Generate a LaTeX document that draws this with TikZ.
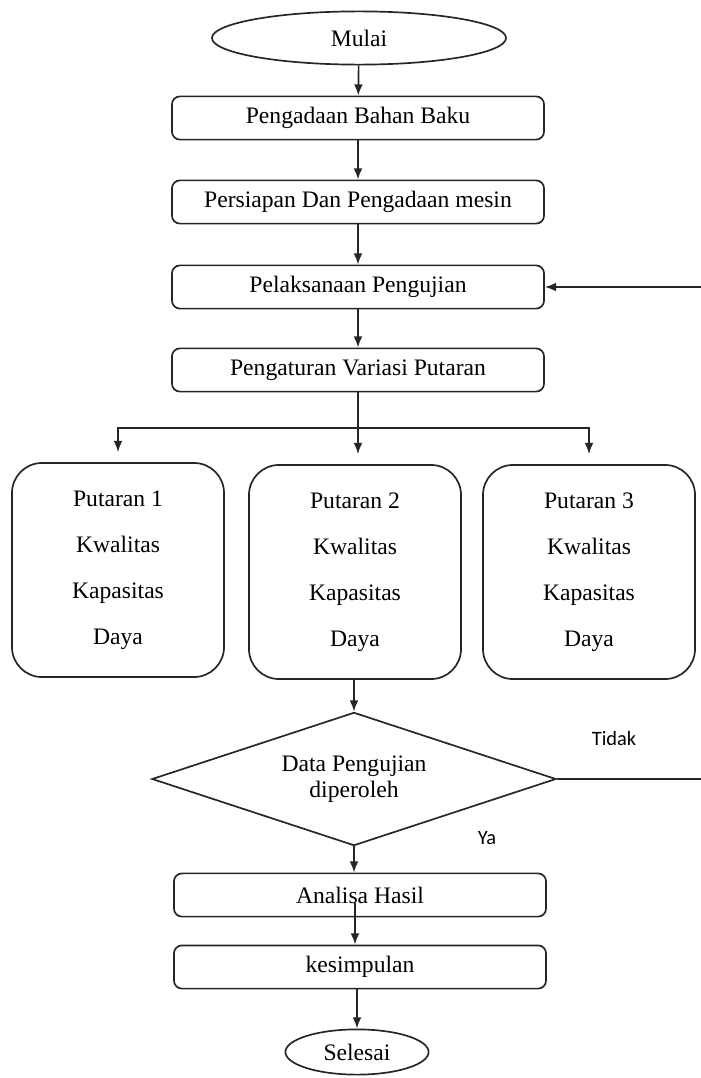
\documentclass[tikz,border=0pt]{standalone}
\usepackage{fontspec}
\setmainfont{Liberation Serif}
\newfontfamily\labelfont{Carlito}
\usetikzlibrary{shapes.geometric,arrows.meta}

\tikzset{
  proses/.style={rectangle, rounded corners=0.2cm, draw=black!85, line width=1.2pt,
    minimum width=9.3cm, minimum height=1.08cm, font=\fontsize{16.8}{19}\selectfont},
  terminal/.style={ellipse, draw=black!85, line width=1.2pt, inner sep=0pt,
    font=\fontsize{16.8}{19}\selectfont},
  putaran/.style={rectangle, rounded corners=0.75cm, draw=black!85, line width=1.2pt,
    minimum width=5.3cm, minimum height=5.35cm, align=center,
    font=\fontsize{16.8}{32.6}\selectfont},
  keputusan/.style={diamond, aspect=3, draw=black!85, line width=1.2pt, inner sep=0pt,
    minimum width=10.1cm, minimum height=3.33cm, align=center,
    font=\fontsize{16.8}{18.4}\selectfont},
  ket/.style={font=\labelfont\fontsize{14.5}{16}\selectfont},
  garis/.style={draw=black!85, line width=1.2pt},
  panah/.style={garis, -{Latex[length=0.28cm,width=0.22cm]}}
}

\begin{document}
\begin{tikzpicture}[x=0.025cm, y=-0.025cm]
    \useasboundingbox (0,0) rectangle (700,1078);

    \node[terminal, minimum width=7.35cm, minimum height=1.33cm] (mulai) at (359, 38) {Mulai};
    \node[proses] (bahan) at (358, 118) {Pengadaan Bahan Baku};
    \node[proses] (mesin) at (358, 202) {Persiapan Dan Pengadaan mesin};
    \node[proses] (uji) at (358, 287) {Pelaksanaan Pengujian};
    \node[proses] (variasi) at (358, 370) {Pengaturan Variasi Putaran};

    \node[putaran] (put1) at (118, 570) {Putaran 1\\Kwalitas\\Kapasitas\\Daya};
    \node[putaran] (put2) at (355, 572) {Putaran 2\\Kwalitas\\Kapasitas\\Daya};
    \node[putaran] (put3) at (589, 572) {Putaran 3\\Kwalitas\\Kapasitas\\Daya};

    \node[keputusan] (cek) at (354, 779) {Data Pengujian\\diperoleh};
    \node[ket] (tidak) at (614, 738) {Tidak};
    \node[ket] (ya) at (487, 838) {Ya};

    \node[proses] (analisa) at (360, 895) {Analisa Hasil};
    \node[proses] (simpul) at (360, 967) {kesimpulan};
    \node[terminal, minimum width=3.58cm, minimum height=1.13cm] (selesai) at (357, 1052) {Selesai};

    \coordinate (cab) at (358, 428);
    \coordinate (balik) at (702, 779);
    \coordinate (lanjut) at (355, 903);

    \draw[panah] (mulai) -- (bahan);
    \draw[panah] (bahan) -- (mesin);
    \draw[panah] (mesin) -- (uji);
    \draw[panah] (uji) -- (variasi);
    \draw[garis] (variasi.south) -- (cab);
    \draw[panah, shorten >=0.25cm] (cab) -- (cab |- put2.north);
    \draw[panah, shorten >=0.25cm] (cab) -| (put1.north);
    \draw[panah, shorten >=0.25cm] (cab) -| (put3.north);
    \draw[panah] (put2.south -| cek.north) -- (cek.north);
    \draw[panah] (cek.east) -- (balik) |- (uji.east);
    \draw[panah] (cek.south) -- (cek.south |- analisa.north);
    \draw[panah] (lanjut) -- (lanjut |- simpul.north);
    \draw[panah] (simpul.south -| selesai.north) -- (selesai.north);

\end{tikzpicture}
\end{document}
